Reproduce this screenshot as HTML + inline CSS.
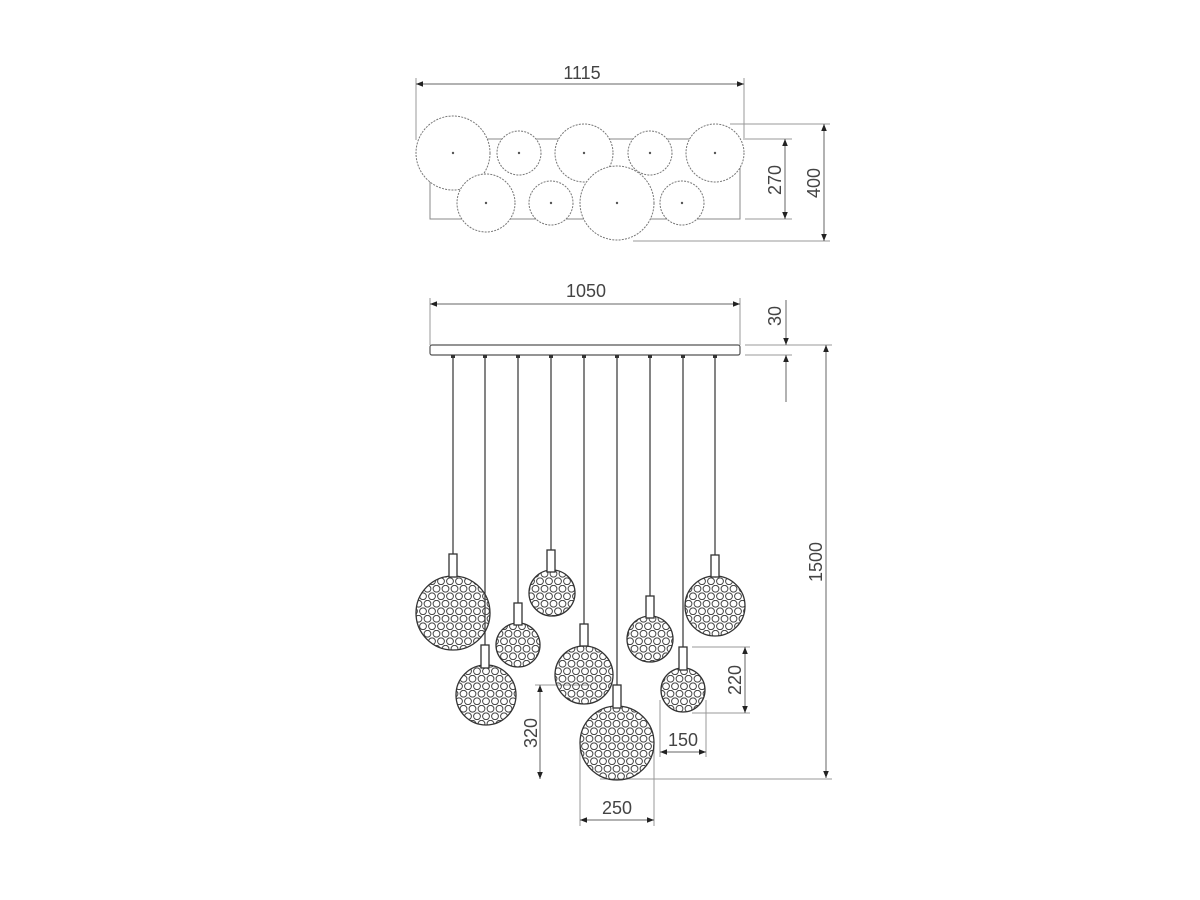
<!DOCTYPE html>
<html><head><meta charset="utf-8"><style>
html,body{margin:0;padding:0;background:#fff;}
svg{display:block}
text{font-family:"Liberation Sans",sans-serif;font-size:18px;fill:#444;}
</style></head><body>
<svg width="1200" height="900" viewBox="0 0 1200 900" xmlns="http://www.w3.org/2000/svg">
<defs>
<marker id="a" viewBox="0 0 10 10" refX="10" refY="5" markerWidth="9" markerHeight="7" markerUnits="userSpaceOnUse" orient="auto-start-reverse"><path d="M0,1 L10,5 L0,9 z" fill="#222"/></marker>
<pattern id="hex" width="9" height="15" patternUnits="userSpaceOnUse">
<circle cx="4.5" cy="3.75" r="3.4" fill="none" stroke="#444" stroke-width="1"/>
<circle cx="0" cy="11.25" r="3.4" fill="none" stroke="#444" stroke-width="1"/>
<circle cx="9" cy="11.25" r="3.4" fill="none" stroke="#444" stroke-width="1"/>
</pattern>
</defs>
<g stroke="#999" stroke-width="1" fill="none">
<line x1="416" y1="78" x2="416" y2="140"/><line x1="744" y1="78" x2="744" y2="140"/>
<line x1="416" y1="84" x2="744" y2="84" stroke="#666" marker-start="url(#a)" marker-end="url(#a)"/>
<rect x="430" y="139" width="310" height="80" stroke="#888"/>
<line x1="745" y1="139" x2="792" y2="139"/><line x1="745" y1="219" x2="792" y2="219"/>
<line x1="785" y1="139" x2="785" y2="219" stroke="#666" marker-start="url(#a)" marker-end="url(#a)"/>
<line x1="730" y1="124" x2="830" y2="124"/><line x1="633" y1="241" x2="830" y2="241"/>
<line x1="824" y1="124" x2="824" y2="241" stroke="#666" marker-start="url(#a)" marker-end="url(#a)"/>
</g>
<g stroke="#777" stroke-width="1" fill="#fff" stroke-dasharray="2 1.2">
<circle cx="453" cy="153" r="37"/><circle cx="519" cy="153" r="22"/><circle cx="584" cy="153" r="29"/><circle cx="650" cy="153" r="22"/><circle cx="715" cy="153" r="29"/>
<circle cx="486" cy="203" r="29"/><circle cx="551" cy="203" r="22"/><circle cx="617" cy="203" r="37"/><circle cx="682" cy="203" r="22"/>
</g>
<g fill="#555">
<circle cx="453" cy="153" r="1.2"/><circle cx="519" cy="153" r="1.2"/><circle cx="584" cy="153" r="1.2"/><circle cx="650" cy="153" r="1.2"/><circle cx="715" cy="153" r="1.2"/>
<circle cx="486" cy="203" r="1.2"/><circle cx="551" cy="203" r="1.2"/><circle cx="617" cy="203" r="1.2"/><circle cx="682" cy="203" r="1.2"/>
</g>
<text x="582" y="79" text-anchor="middle">1115</text>
<text transform="translate(781,180) rotate(-90)" text-anchor="middle">270</text>
<text transform="translate(820,183) rotate(-90)" text-anchor="middle">400</text>

<g stroke="#999" stroke-width="1" fill="none">
<line x1="430" y1="298" x2="430" y2="345"/><line x1="740" y1="298" x2="740" y2="345"/>
<line x1="430" y1="304" x2="740" y2="304" stroke="#666" marker-start="url(#a)" marker-end="url(#a)"/>
<line x1="745" y1="345" x2="832" y2="345"/><line x1="745" y1="355" x2="792" y2="355"/>
<line x1="786" y1="300" x2="786" y2="345" stroke="#666" marker-end="url(#a)"/>
<line x1="786" y1="402" x2="786" y2="355" stroke="#666" marker-end="url(#a)"/>
<line x1="826" y1="345" x2="826" y2="778" stroke="#666" marker-start="url(#a)" marker-end="url(#a)"/>
<line x1="600" y1="779" x2="832" y2="779"/>
<line x1="692" y1="647" x2="750" y2="647"/><line x1="692" y1="713" x2="750" y2="713"/>
<line x1="745" y1="647" x2="745" y2="713" stroke="#666" marker-start="url(#a)" marker-end="url(#a)"/>
<line x1="660" y1="700" x2="660" y2="757"/><line x1="706" y1="700" x2="706" y2="757"/>
<line x1="660" y1="752" x2="706" y2="752" stroke="#666" marker-start="url(#a)" marker-end="url(#a)"/>
<line x1="535" y1="685" x2="590" y2="685"/>
<line x1="540" y1="685" x2="540" y2="779" stroke="#666" marker-start="url(#a)" marker-end="url(#a)"/>
<line x1="580" y1="745" x2="580" y2="826"/><line x1="654" y1="745" x2="654" y2="826"/>
<line x1="580" y1="820" x2="654" y2="820" stroke="#666" marker-start="url(#a)" marker-end="url(#a)"/>
</g>
<rect x="430" y="345" width="310" height="10" rx="2" fill="#fff" stroke="#555" stroke-width="1.2"/>
<text x="586" y="297" text-anchor="middle">1050</text>
<text transform="translate(781,316) rotate(-90)" text-anchor="middle">30</text>
<text transform="translate(822,562) rotate(-90)" text-anchor="middle">1500</text>
<text transform="translate(741,680) rotate(-90)" text-anchor="middle">220</text>
<text x="683" y="746" text-anchor="middle">150</text>
<text transform="translate(537,733) rotate(-90)" text-anchor="middle">320</text>
<text x="617" y="814" text-anchor="middle">250</text>

<g stroke="#333" stroke-width="1.2">
<line x1="453" y1="356" x2="453" y2="554"/><line x1="485" y1="356" x2="485" y2="645"/><line x1="518" y1="356" x2="518" y2="603"/>
<line x1="551" y1="356" x2="551" y2="550"/><line x1="584" y1="356" x2="584" y2="624"/><line x1="617" y1="356" x2="617" y2="685"/>
<line x1="650" y1="356" x2="650" y2="596"/><line x1="683" y1="356" x2="683" y2="647"/><line x1="715" y1="356" x2="715" y2="555"/>
</g>
<g fill="#333">
<rect x="451" y="355" width="4" height="3"/><rect x="483" y="355" width="4" height="3"/><rect x="516" y="355" width="4" height="3"/><rect x="549" y="355" width="4" height="3"/><rect x="582" y="355" width="4" height="3"/><rect x="615" y="355" width="4" height="3"/><rect x="648" y="355" width="4" height="3"/><rect x="681" y="355" width="4" height="3"/><rect x="713" y="355" width="4" height="3"/>
</g>
<g stroke="#333" stroke-width="1.3" fill="url(#hex)">
<circle cx="453" cy="613" r="37"/><circle cx="486" cy="695" r="30"/><circle cx="518" cy="645" r="22"/>
<circle cx="552" cy="593" r="23"/><circle cx="584" cy="675" r="29"/><circle cx="617" cy="743" r="37"/>
<circle cx="650" cy="639" r="23"/><circle cx="683" cy="690" r="22"/><circle cx="715" cy="606" r="30"/>
</g>
<g stroke="#333" stroke-width="1.3" fill="#fff">
<rect x="449" y="554" width="8" height="23"/><rect x="481" y="645" width="8" height="23"/><rect x="514" y="603" width="8" height="22"/>
<rect x="547" y="550" width="8" height="22"/><rect x="580" y="624" width="8" height="22"/><rect x="613" y="685" width="8" height="23"/>
<rect x="646" y="596" width="8" height="22"/><rect x="679" y="647" width="8" height="23"/><rect x="711" y="555" width="8" height="22"/>
</g>
</svg>
</body></html>
